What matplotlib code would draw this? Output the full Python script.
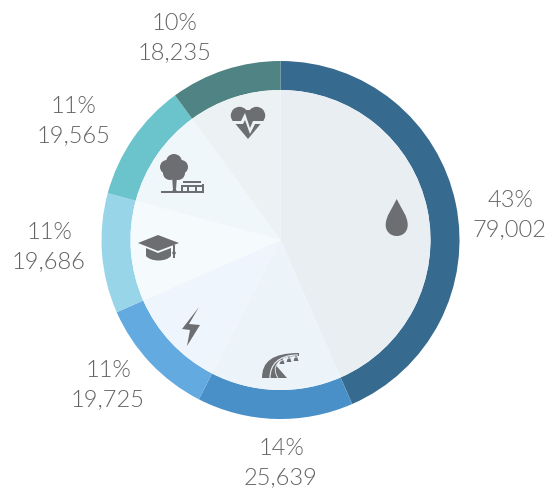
import numpy as np
import matplotlib
matplotlib.use("Agg")
import matplotlib.pyplot as plt
from matplotlib.patches import Polygon, Circle, Rectangle, PathPatch
from matplotlib.path import Path

values = [79002, 25639, 19725, 19686, 19565, 18235]
percents = ["43%", "14%", "11%", "11%", "11%", "10%"]
amounts = ["79,002", "25,639", "19,725", "19,686", "19,565", "18,235"]
ring_colors = ["#366A8E", "#4A90C8", "#62AAE0", "#98D5E8", "#6BC3CB", "#4F8384"]
inner_colors = ["#E9EEF2", "#ECF3F9", "#EFF5FC", "#F5FAFD", "#F0F7FA", "#ECF2F3"]
label_xy = [(510, 215), (281, 463), (108, 385), (49, 247), (73, 121), (174, 38)]

W, H = 556, 495
GREY = "#6D6E71"
TEXT = "#626366"
plt.rcParams["font.family"] = ["Lato", "DejaVu Sans"]

fig = plt.figure(figsize=(W / 100, H / 100), dpi=100)
ax = fig.add_axes([0, 0, 1, 1])
cx, cy = 280.5, H - 240

ax.pie(values, radius=179, center=(cx, cy), startangle=90, counterclock=False,
       colors=ring_colors, wedgeprops=dict(linewidth=0, width=29), frame=False)
ax.pie(values, radius=150, center=(cx, cy), startangle=90, counterclock=False,
       colors=inner_colors, wedgeprops=dict(linewidth=0), frame=False)
ax.set_xlim(0, W)
ax.set_ylim(0, H)
ax.set_aspect("equal")
ax.axis("off")

for p, a, (x, y) in zip(percents, amounts, label_xy):
    ax.text(x, H - y, p + "\n" + a, ha="center", va="center", color=TEXT,
            fontsize=17, linespacing=1.5, fontweight=300)


def P(pts):
    return [(x, H - y) for x, y in pts]


def poly(pts, c=GREY, z=5):
    ax.add_patch(Polygon(P(pts), closed=True, fc=c, ec="none", zorder=z))


def circ(x, y, r, c=GREY, z=5):
    ax.add_patch(Circle((x, H - y), r, fc=c, ec="none", zorder=z))


def rect(x0, y0, x1, y1, c=GREY, z=5):
    ax.add_patch(Rectangle((x0, H - y1), x1 - x0, y1 - y0, fc=c, ec="none", zorder=z))


def curve(verts, codes, c=GREY, z=5):
    ax.add_patch(PathPatch(Path(P(verts), codes), fc=c, ec="none", zorder=z))


def stroke(verts, codes, c, lw, z=6):
    ax.add_patch(PathPatch(Path(P(verts), codes), fc="none", ec=c, lw=lw, zorder=z))


M, L, C4, Z = Path.MOVETO, Path.LINETO, Path.CURVE4, Path.CLOSEPOLY

# drop
curve([(396.7, 199), (392, 209), (385.7, 216), (385.7, 225), (385.7, 232), (391, 236),
       (396.7, 236), (402.5, 236), (407.7, 232), (407.7, 225), (407.7, 216), (401.5, 209),
       (396.7, 199), (396.7, 199)],
      [M, C4, C4, C4, C4, C4, C4, C4, C4, C4, C4, C4, C4, Z])

# road
curve([(262, 378), (262, 362), (272, 353), (299, 353), (299, 356),
       (287, 356), (278, 358), (276.5, 366), (287, 378), (287, 378)],
      [M, C4, C4, C4, L, C4, C4, C4, L, Z])
stroke([(270, 378), (270, 365), (278, 355), (298, 355)], [M, C4, C4, C4], inner_colors[1], 0.8)
stroke([(278, 378), (271, 367), (277, 358), (297, 357)], [M, C4, C4, C4], inner_colors[1], 0.6)
for x, y0, y1, w in [(282, 358, 364, 2.5), (289, 357, 362, 2.5), (296, 356, 361, 2.5)]:
    poly([(x - 0.8, y0), (x + 0.8, y0), (x + w, y1), (x - w, y1)])

# bolt
poly([(199, 307), (189, 324), (200, 325), (187, 346), (190, 330), (182, 329)])

# mortar-board
poly([(158, 235), (179, 243), (158, 251), (138, 243)])
curve([(146, 248), (158, 253), (171, 248), (171, 256), (166, 262), (151, 262), (146, 256), (146, 248)],
      [M, L, L, L, C4, C4, C4, Z])
rect(173.4, 245, 174.6, 258)
circ(174, 253, 1.8)

# heart with pulse
circ(239.5, 115.5, 8.7)
circ(256.5, 115.5, 8.7)
poly([(233, 121), (263, 121), (248, 139)])
poly([(239.5, 110), (256.5, 110), (256.5, 122), (239.5, 122)])
poly([(229, 121), (241, 121), (245, 113), (250, 128), (253, 121), (268, 121),
      (268, 124), (255, 124), (250, 134), (245, 120), (243, 124), (229, 124)], c=inner_colors[5], z=6)

# tree and bench
for x, y, r in [(174, 162, 8), (167, 167, 7), (181, 167, 7), (170, 173, 7), (178, 173, 7), (174, 168, 9)]:
    circ(x, y, r)
poly([(172, 176), (177, 176), (176, 190), (178, 192), (171, 192), (173, 190)])
rect(160.5, 190.5, 204, 192.5)
rect(183, 181, 201, 183)
rect(181, 185, 203, 186.5)
rect(181, 185, 183, 191)
rect(201.5, 184, 204, 191)
rect(187, 186, 188.5, 191)
rect(195, 186, 196.5, 191)

fig.savefig("out.png", dpi=100)
